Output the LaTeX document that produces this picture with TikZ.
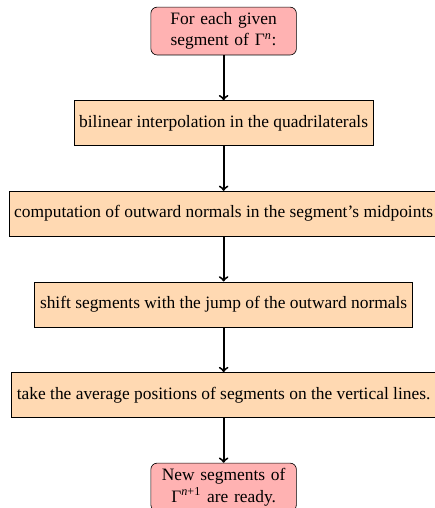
\documentclass[tikz,border=0pt]{standalone}
\usepackage{fontspec}
\setmainfont{Liberation Serif}
\usetikzlibrary{positioning}
\tikzset{
  startstop/.style={rectangle, rounded corners, minimum height=1cm, text width=3cm, align=center, draw=black, fill=red!30, font=\fontsize{11}{13.6}\selectfont},
  process/.style={rectangle, minimum height=1cm, align=center, draw=black, fill=orange!30, font=\fontsize{11}{13.6}\selectfont},
  arrow/.style={very thick,->}
}
\begin{document}
\begin{tikzpicture}[node distance=1cm]
  \useasboundingbox (-4.97,0.69) rectangle (4.68,-10.6);
  \node (start) [startstop] {For each given segment of Γ\textsuperscript{\textit{n}}:};
  \node (interp) [process, below=of start] {bilinear interpolation in the quadrilaterals};
  \node (normals) [process, below=of interp] {computation of outward normals in the segment's midpoints};
  \node (shift) [process, below=of normals] {shift segments with the jump of the outward normals};
  \node (average) [process, below=of shift] {take the average positions of segments on the vertical lines.};
  \node (stop) [startstop, below=of average] {New segments of Γ\textsuperscript{\textit{n}+1} are ready.};

  \draw [arrow] (start) -- (interp);
  \draw [arrow] (interp) -- (normals);
  \draw [arrow] (normals) -- (shift);
  \draw [arrow] (shift) -- (average);
  \draw [arrow] (average) -- (stop);
\end{tikzpicture}
\end{document}
